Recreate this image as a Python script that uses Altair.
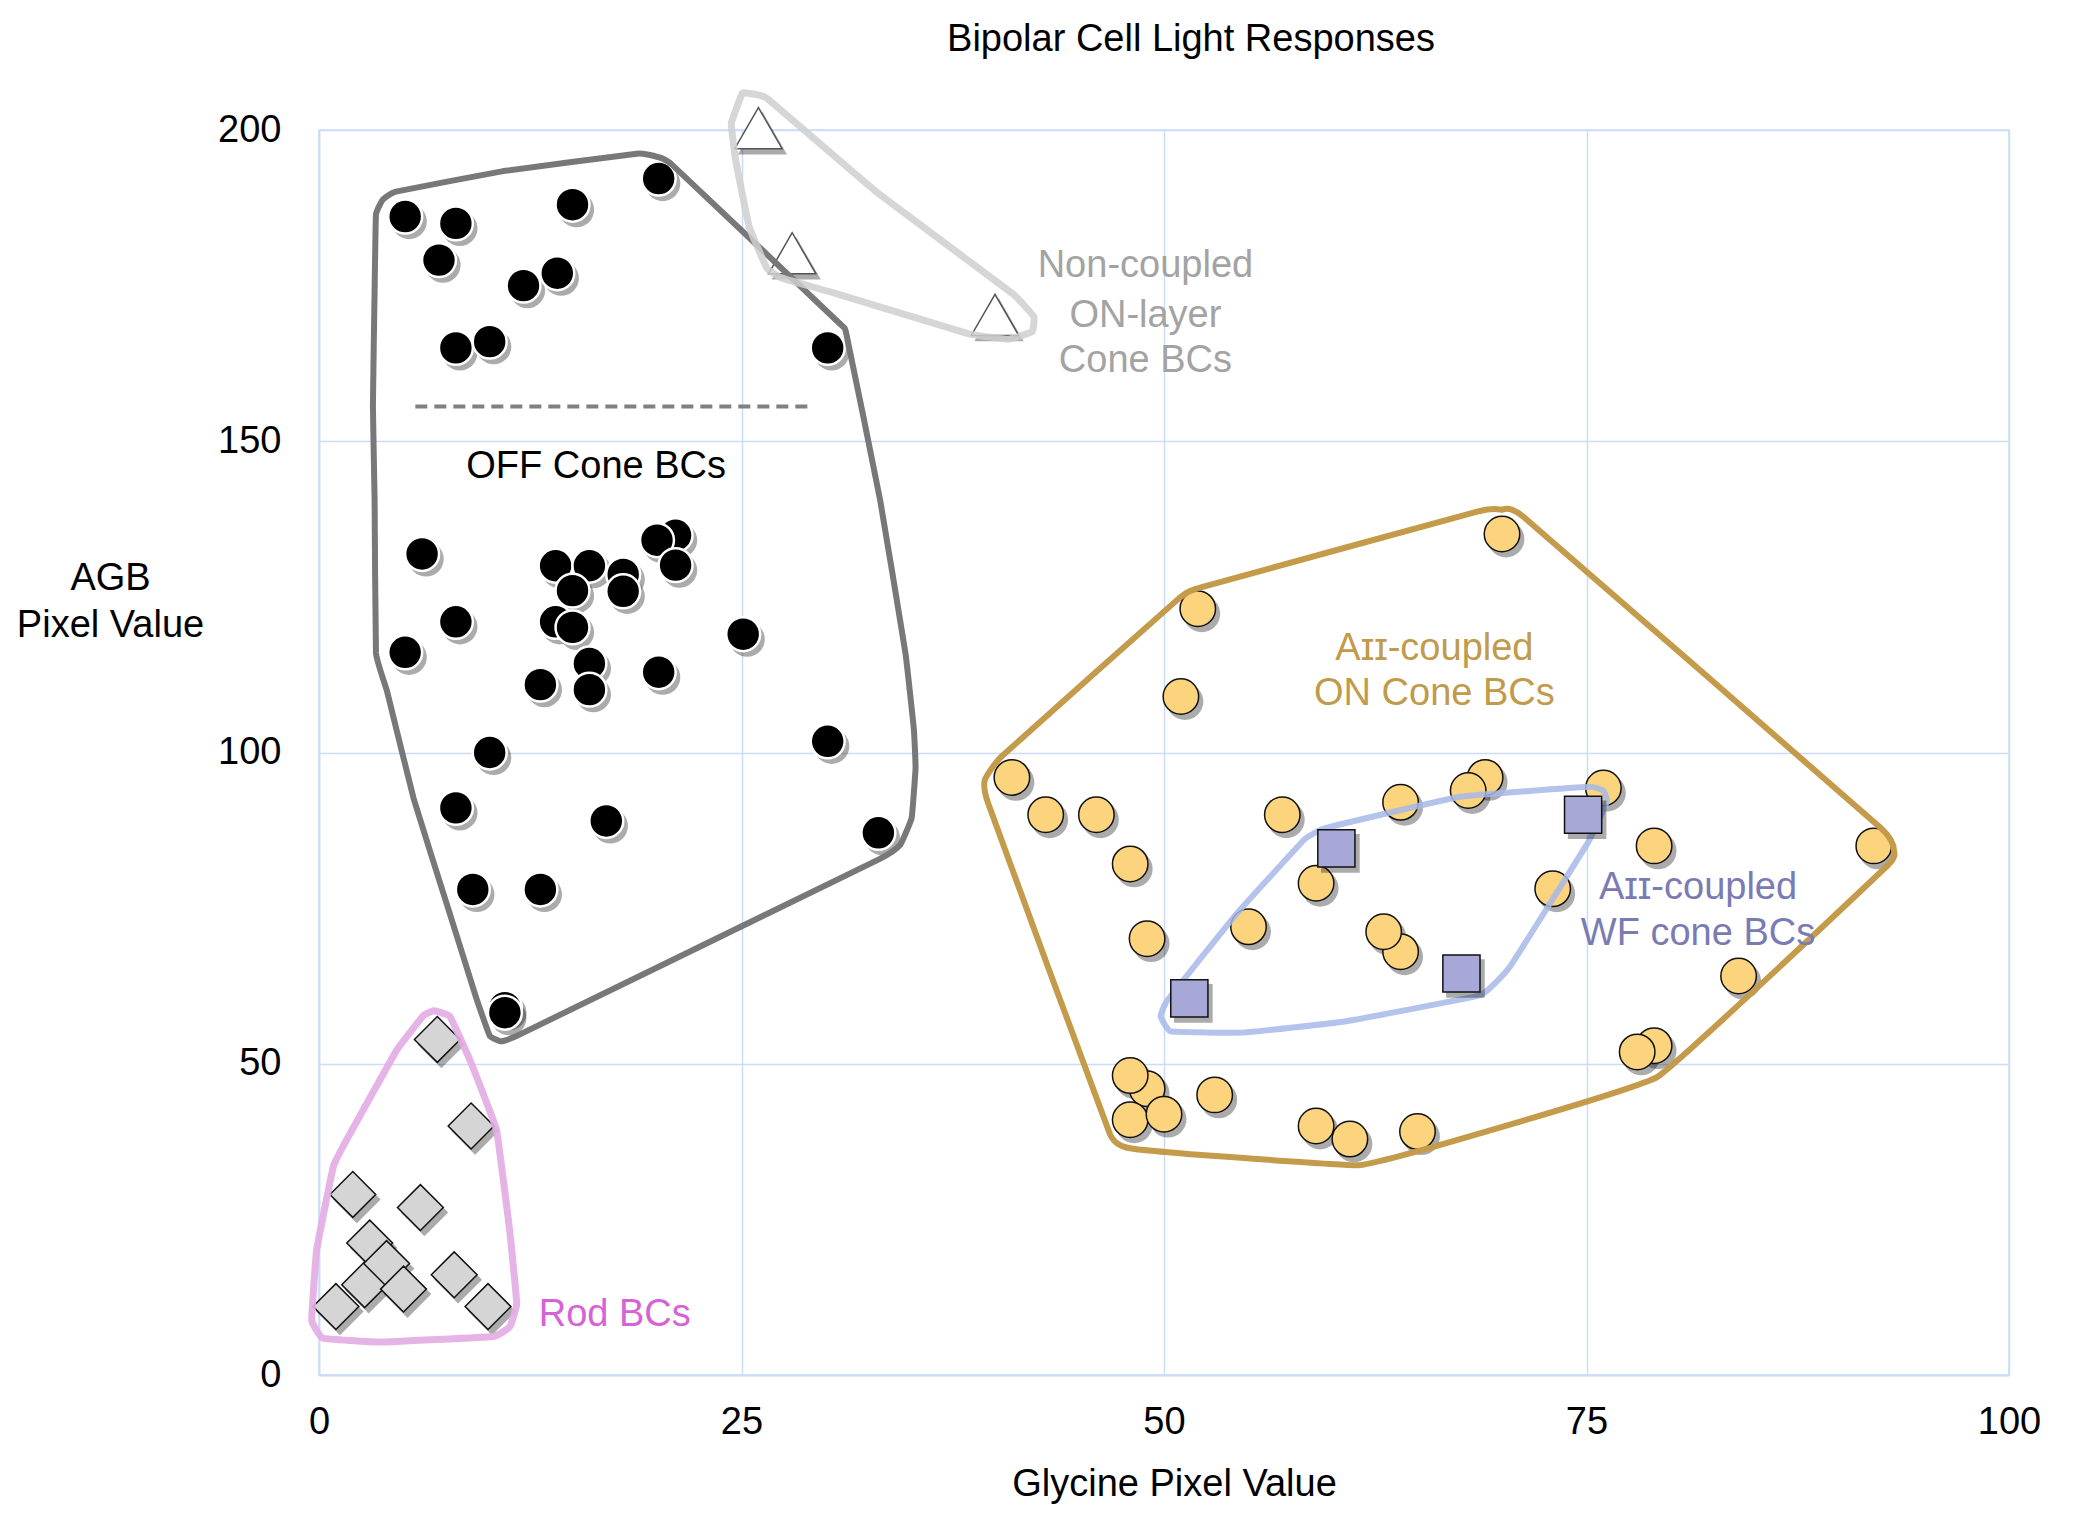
import altair as alt
import pandas as pd

FONT = "Liberation Sans"

# ---------------- data ----------------
# OFF cone bipolar cells (black circles)
off_x = [5.1, 8.1, 7.1, 15.0, 20.1, 12.1, 14.1, 8.1, 10.1, 30.1,
         6.1, 14.0, 16.0, 18.0, 18.0, 21.1, 20.0, 21.1, 15.0, 8.1,
         14.0, 15.0, 5.1, 16.0, 16.0, 13.1, 20.1, 25.1, 10.1, 30.1,
         8.1, 17.0, 33.1, 9.1, 13.1, 11.0, 11.0]
off_y = [186.1, 185.0, 179.1, 188.0, 192.2, 175.0, 177.0, 165.0, 166.0, 165.0,
         131.9, 130.0, 130.0, 128.6, 125.9, 134.9, 134.1, 130.1, 126.0, 121.0,
         121.0, 120.1, 116.1, 114.3, 110.1, 110.9, 112.9, 119.0, 100.0, 101.8,
         91.1, 89.0, 87.1, 78.0, 78.0, 59.0, 58.2]

# Rod bipolar cells (grey diamonds)
rod_x = [7.0, 9.0, 2.0, 6.0, 3.0, 2.7, 4.0, 5.0, 8.0, 1.0, 10.0]
rod_y = [53.9, 40.0, 29.0, 26.9, 21.2, 14.5, 17.9, 13.8, 16.1, 11.0, 11.0]

# Non-coupled ON-layer cone BCs (white triangles)
tri_x = [26.0, 28.0, 40.0]
tri_y = [200.3, 180.2, 170.3]

# AII-coupled ON cone BCs (yellow circles)
on_x = [70.0, 52.0, 51.0, 41.0, 43.0, 46.0, 48.0, 49.0, 57.0, 59.0,
        55.0, 64.0, 69.0, 68.0, 76.0, 79.0, 73.0, 64.0, 63.0, 92.0,
        84.0, 79.0, 78.0, 49.0, 48.0, 48.0, 50.0, 53.0, 59.0, 61.0, 65.0]
on_y = [135.1, 123.1, 109.0, 96.0, 90.0, 90.0, 82.1, 70.1, 90.0, 79.0,
        72.0, 92.0, 96.0, 93.9, 94.3, 85.0, 78.1, 68.0, 71.2, 85.0,
        64.1, 52.9, 51.9, 46.0, 48.1, 41.0, 41.9, 45.0, 40.0, 37.9, 39.1]

# AII-coupled WF cone BCs (purple squares)
wf_x = [60.2, 74.8, 51.5, 67.6]
wf_y = [84.6, 90.0, 60.5, 64.5]

# hand-drawn cluster outlines
off_hull_x = [3.37, 3.77, 4.55, 10.9, 18.8, 20.0, 20.9, 30.7, 31.2, 33.2, 34.7, 35.2,
              35.3, 35.07, 34.4, 33.1, 11.95, 10.77, 10.1, 9.3, 7.73, 5.6, 4.03, 3.37,
              3.29, 3.19, 3.29]
off_hull_y = [186.4, 188.8, 190.1, 193.4, 196.2, 195.7, 194.4, 169.2, 167.3, 140.6, 116.0, 103.7,
              97.5, 89.5, 85.2, 82.8, 54.8, 53.6, 54.5, 60.6, 74.2, 92.6, 109.8, 116.0,
              140.6, 155.7, 174.1]

tri_hull_x = [25.05, 24.4, 24.65, 25.45, 26.5, 27.4, 30.5, 38.4, 40.8, 42.2, 42.3, 41.0, 33.1, 26.5, 25.4]
tri_hull_y = [205.9, 201.1, 195.2, 184.5, 177.8, 176.2, 173.8, 167.3, 166.4, 167.6, 170.0, 173.8, 189.8, 205.1, 205.9]

rod_hull_x = [6.8, 7.75, 8.93, 10.5, 11.3, 11.7, 11.3, 10.3, 3.6, 0.25, -0.43, -0.14, 0.85, 1.64, 4.6, 6.2]
rod_hull_y = [58.5, 57.6, 50.6, 39.4, 22.8, 11.5, 7.8, 6.2, 5.3, 5.9, 8.8, 20.1, 33.5, 37.8, 52.2, 57.8]

on_hull_x = [69.98, 68.7, 52.4, 50.9, 40.4, 39.4, 39.6, 46.8, 48.3, 52.4, 61.5, 65.6, 79.2, 92.8, 93.2, 92.4, 71.3]
on_hull_y = [139.0, 138.8, 126.7, 124.8, 99.4, 95.6, 91.8, 38.7, 36.3, 35.3, 33.7, 36.4, 47.9, 81.8, 84.0, 87.9, 137.8]

wf_hull_x = [49.8, 50.4, 54.7, 60.7, 68.7, 70.5, 75.1, 76.2, 76.0, 75.1, 67.5, 59.6, 58.3, 54.3, 50.2]
wf_hull_y = [57.6, 55.2, 55.0, 56.8, 61.0, 65.7, 85.6, 92.1, 93.9, 94.5, 92.9, 87.9, 86.0, 74.1, 60.2]

dash_x = [5.7, 29.1]
dash_y = [155.6, 155.6]

# cluster labels
lab_text = ["OFF Cone BCs", "Non-coupled", "ON-layer", "Cone BCs",
            "A\u026a\u026a-coupled", "ON Cone BCs", "A\u026a\u026a-coupled", "WF cone BCs", "Rod BCs"]
lab_x = [16.4, 48.9, 48.9, 48.9, 66.0, 66.0, 81.6, 81.6, 17.5]
lab_y = [145.8, 178.1, 170.2, 162.9, 116.7, 109.4, 78.3, 70.8, 9.6]
lab_color = ["#000000", "#a3a3a3", "#a3a3a3", "#a3a3a3",
             "#c19a4b", "#c19a4b", "#7b7bb3", "#7b7bb3", "#d663d6"]

x_ticks = [0, 25, 50, 75, 100]
y_ticks = [0, 50, 100, 150, 200]

# ---------------- chart ----------------
GRID = "#cadcf6"
xs = alt.Scale(domain=[0, 100], nice=False, zero=False)
ys = alt.Scale(domain=[0, 200], nice=False, zero=False)

xaxis = alt.Axis(values=x_ticks, title="Glycine Pixel Value", grid=True, gridColor=GRID,
                 gridWidth=1.5, ticks=False, tickSize=0, domain=True, domainColor=GRID,
                 domainWidth=2, labelFont=FONT, labelFontSize=38, labelColor="black",
                 labelPadding=47, labelBaseline="middle", labelFlush=False,
                 titleFont=FONT, titleFontSize=38, titleFontWeight="normal", titleColor="black",
                 titleX=855, titleY=109, titleBaseline="middle", titleAlign="center")
yaxis = alt.Axis(values=y_ticks, title=["AGB", "Pixel Value"], grid=True, gridColor=GRID,
                 gridWidth=1.5, ticks=False, tickSize=0, domain=True, domainColor=GRID,
                 domainWidth=1.5, labelFont=FONT, labelFontSize=38, labelColor="black",
                 labelPadding=38, labelBaseline="middle",
                 titleFont=FONT, titleFontSize=38, titleFontWeight="normal", titleColor="black",
                 titleAngle=0, titleX=-209, titleY=448, titleAlign="center",
                 titleBaseline="middle", titleLineHeight=47)


def df(xv, yv):
    return pd.DataFrame({"x": xv, "y": yv, "i": list(range(len(xv)))})


def enc(chart):
    return chart.encode(x=alt.X("x:Q", scale=xs, axis=xaxis),
                        y=alt.Y("y:Q", scale=ys, axis=yaxis))


def points(xv, yv, shape, size, fill, stroke, sw):
    d = df(xv, yv)
    shadow = enc(alt.Chart(d).mark_point(shape=shape, size=size * 1.08, filled=True,
                                         fill="#000000", strokeWidth=0, opacity=0.33,
                                         xOffset=4, yOffset=5))
    main = enc(alt.Chart(d).mark_point(shape=shape, size=size, filled=True, fill=fill,
                                       stroke=stroke, strokeWidth=sw, opacity=1))
    return [shadow, main]


def hull(xv, yv, color, width, op=1.0):
    d = df(xv, yv)
    return enc(alt.Chart(d).mark_line(interpolate="cardinal-closed", tension=0.75,
                                      color=color, strokeWidth=width, strokeJoin="round",
                                      opacity=op)).encode(order=alt.Order("i:Q"))


layers = []
layers += points(off_x, off_y, "circle", 1150, "#000000", "#ffffff", 2.5)
layers += points(rod_x, rod_y, "diamond", 2100, "#d5d5d5", "#111111", 1.5)
layers += points(tri_x, tri_y, "triangle-up", 2250, "#ffffff", "#555555", 1.5)
layers += points(on_x, on_y, "circle", 1260, "#fdd47e", "#111111", 1.5)

layers.append(hull(off_hull_x, off_hull_y, "#787878", 6))
layers.append(hull(tri_hull_x, tri_hull_y, "#cfcfcf", 7, 0.85))
layers.append(hull(rod_hull_x, rod_hull_y, "#e3abe3", 7, 0.9))
layers.append(hull(on_hull_x, on_hull_y, "#c39b4b", 6))
layers.append(hull(wf_hull_x, wf_hull_y, "#a6b9e8", 6, 0.85))

layers += points(wf_x, wf_y, "square", 1380, "#a8a8d8", "#111111", 1.5)

layers.append(enc(alt.Chart(df(dash_x, dash_y)).mark_line(
    color="#808080", strokeWidth=4, strokeDash=[12, 7])))

lab = pd.DataFrame({"x": lab_x, "y": lab_y, "t": lab_text, "c": lab_color})
layers.append(enc(alt.Chart(lab).mark_text(font=FONT, fontSize=38, align="center",
                                           baseline="middle")).encode(
    text="t:N", color=alt.Color("c:N", scale=None)))

chart = alt.layer(*layers).properties(
    width=1690, height=1245,
    autosize="none",
    padding={"left": 311, "top": 122, "right": 70, "bottom": 135},
    title=alt.TitleParams("Bipolar Cell Light Responses", font=FONT, fontSize=38,
                          fontWeight="normal", color="black", anchor="middle",
                          dx=27, offset=30),
).configure_view(stroke=GRID, strokeWidth=1.5)

chart.save("out.html", embed_options={"renderer": "svg", "actions": False})
